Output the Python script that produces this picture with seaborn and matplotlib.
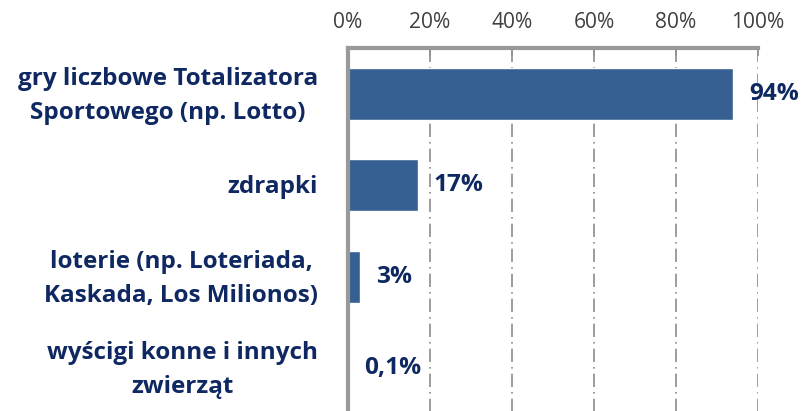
import matplotlib
matplotlib.use("Agg")
import matplotlib.pyplot as plt
import seaborn as sns
import pandas as pd

categories = [
    "gry liczbowe Totalizatora\nSportowego (np. Lotto)",
    "zdrapki",
    "loterie (np. Loteriada,\nKaskada, Los Milionos)",
    "wyścigi konne i innych\nzwierząt",
]
values = [94, 17, 3, 0.1]
value_labels = ["94%", "17%", "3%", "0,1%"]
ticks = [0, 20, 40, 60, 80, 100]
tick_labels = ["0%", "20%", "40%", "60%", "80%", "100%"]

df = pd.DataFrame({"cat": categories, "val": values})

sns.set_theme(style="white")
plt.rcParams["font.family"] = ["Open Sans", "DejaVu Sans"]

NAVY = "#0f2862"

fig = plt.figure(figsize=(8.08, 4.11), dpi=100)
ax = fig.add_axes([348 / 808, (411 - 414) / 411, (758 - 348) / 808, (414 - 48) / 411])

sns.barplot(data=df, x="val", y="cat", orient="h", color="#366092",
            width=0.57, ax=ax, saturation=1)

ax.set_xlim(0, 100)
ax.set_ylim(3.5, -0.5)
ax.xaxis.tick_top()
ax.set_xticks(ticks)
ax.set_xticklabels(tick_labels, fontsize=14, color="#404040")
ax.tick_params(axis="x", direction="in", length=6, width=1.2, color="#909090", pad=11)
ax.set_yticks(range(len(categories)))
ax.set_yticklabels([])
ax.tick_params(axis="y", length=0)
ax.set_xlabel("")
ax.set_ylabel("")

ax.grid(axis="x", color="#8c8c8c", linestyle=(0, (8, 3, 1, 3)), linewidth=1.2)
ax.set_axisbelow(True)

for s in ["right", "bottom"]:
    ax.spines[s].set_visible(False)
for s in ["left", "top"]:
    ax.spines[s].set_visible(True)
    ax.spines[s].set_color("#999999")
    ax.spines[s].set_linewidth(3)

cat_texts = []
for i, c in enumerate(categories):
    t = ax.annotate(c, xy=(0, i), xycoords=("axes fraction", "data"),
                    xytext=(-30, -2), textcoords="offset pixels",
                    ha="right", va="center", multialignment="center",
                    fontsize=15, fontweight="bold", color=NAVY,
                    linespacing=1.55)
    cat_texts.append(t)

val_texts = []
for i, (v, t) in enumerate(zip(values, value_labels)):
    vt = ax.annotate(t, xy=(v, i), xytext=(16, 0), textcoords="offset pixels",
                     ha="left", va="center", fontsize=17, fontweight="bold",
                     color=NAVY)
    val_texts.append(vt)

# scale fonts so that widths match the reference
fig.canvas.draw()
r = fig.canvas.get_renderer()
w = cat_texts[0].get_window_extent(r).width
for t in cat_texts:
    t.set_fontsize(15 * 301 / w)
w2 = val_texts[0].get_window_extent(r).width
for t in val_texts:
    t.set_fontsize(17 * 50 / w2)
tl = ax.get_xticklabels()[-1]
w3 = tl.get_window_extent(r).width
for t in ax.get_xticklabels():
    t.set_fontsize(14 * 54 / w3)

fig.savefig("out.png", dpi=100)
